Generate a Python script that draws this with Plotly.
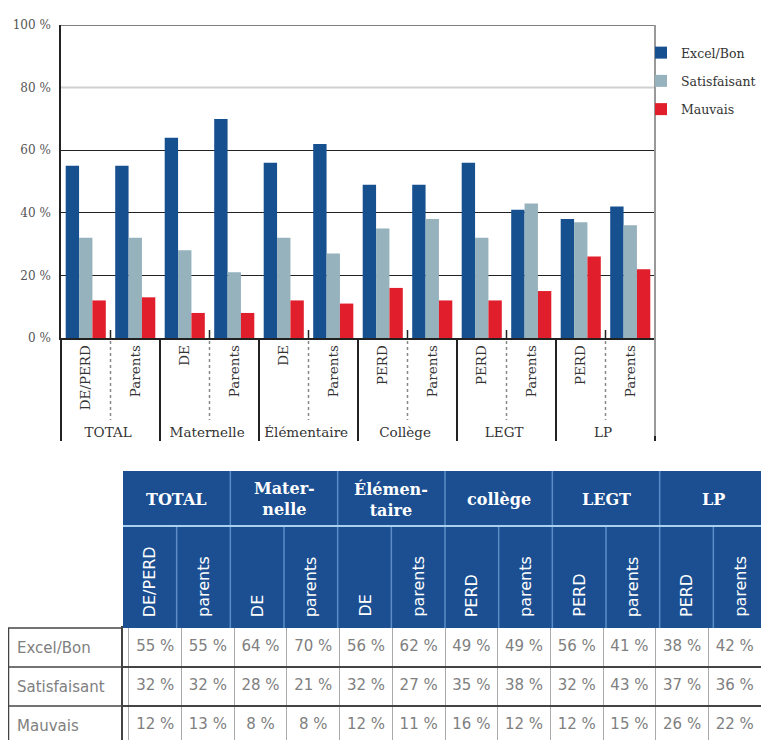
import plotly.graph_objects as go

# ---------------- data ----------------
groups = ["TOTAL", "Maternelle", "Élémentaire", "Collège", "LEGT", "LP"]
sub_labels = ["DE/PERD", "Parents", "DE", "Parents", "DE", "Parents",
              "PERD", "Parents", "PERD", "Parents", "PERD", "Parents"]
series_names = ["Excel/Bon", "Satisfaisant", "Mauvais"]
excel_bon = [55, 55, 64, 70, 56, 62, 49, 49, 56, 41, 38, 42]
satisfaisant = [32, 32, 28, 21, 32, 27, 35, 38, 32, 43, 37, 36]
mauvais = [12, 13, 8, 8, 12, 11, 16, 12, 12, 15, 26, 22]
y_ticks = [0, 20, 40, 60, 80, 100]
y_tick_text = ["0 %", "20 %", "40 %", "60 %", "80 %", "100 %"]
table_groups = ["TOTAL", "Mater-<br>nelle", "Élémen-<br>taire", "collège", "LEGT", "LP"]
table_subs = ["DE/PERD", "parents", "DE", "parents", "DE", "parents",
              "PERD", "parents", "PERD", "parents", "PERD", "parents"]

colors = ["#17508f", "#95b2bd", "#e11e2b"]
# the page body has an 8px margin: figure is sized so it fits the 769x740 window
OFF = 8
W, H = 769 - OFF, 740 - OFF
SERIF = "DejaVu Serif"
SANS = "DejaVu Sans"


def px(x):
    return (x - OFF) / W


def py(y):
    return 1 - (y - OFF) / H


n = len(sub_labels)
group_x = [g for g in groups for _ in range(2)]
# feed non-"Parents" points first so the multicategory axis keeps DE/PERD before Parents
order = sorted(range(n), key=lambda i: sub_labels[i] == "Parents")

fig = go.Figure()
for name, vals, col in zip(series_names, [excel_bon, satisfaisant, mauvais], colors):
    fig.add_trace(go.Bar(
        x=[[group_x[i] for i in order], [sub_labels[i] for i in order]],
        y=[vals[i] for i in order], name=name, marker_color=col,
        marker_line_width=0, legendgroup=name,
    ))

# ---------------- table body (text on a categorical grid) ----------------
series_all = [excel_bon, satisfaisant, mauvais]
col_keys = [f"{group_x[i]} {sub_labels[i]}" for i in range(n)]
tx, ty, tt = [], [], []
for name, s in zip(series_names, series_all):
    for i in range(n):
        tx.append(col_keys[i])
        ty.append(name)
        tt.append(f"{s[i]}\u00a0%")
fig.add_trace(go.Scatter(
    x=tx, y=ty, text=tt, mode="text", xaxis="x2", yaxis="y2",
    textfont=dict(family=SANS, size=15, color="#808080"), textposition="middle center",
    showlegend=False, hoverinfo="skip", cliponaxis=False,
))

# ---------------- shapes & annotations ----------------
shapes = []
annotations = []

shapes.append(dict(type="line", xref="x domain", yref="y", x0=0, x1=1, y0=80, y1=80,
                   line=dict(color="#d0d0d0", width=2)))
shapes.append(dict(type="line", xref="x domain", yref="y", x0=0, x1=1, y0=100, y1=100,
                   line=dict(color="#555", width=1.5)))
shapes.append(dict(type="line", xref="paper", yref="paper", x0=px(655), x1=px(655),
                   y0=py(25), y1=py(436), line=dict(color="#999", width=2)))
for g in range(len(groups)):
    xf = (2 * g + 1) / n
    shapes.append(dict(type="line", xref="x domain", yref="paper", x0=xf, x1=xf,
                       y0=py(341), y1=py(420), line=dict(color="#888", width=1.5, dash="dot")))
    shapes.append(dict(type="line", xref="x domain", yref="paper", x0=xf, x1=xf,
                       y0=py(330), y1=py(339), line=dict(color="#222", width=1.5)))

tx0, tx1 = 123, 767
cw = (tx1 - tx0) / n
# header background and inner lines
shapes.append(dict(type="rect", xref="paper", yref="paper", x0=px(tx0), x1=px(tx1),
                   y0=py(628), y1=py(471), fillcolor="#1b4f91", line=dict(width=0)))
for i in range(1, n):
    xx = tx0 + cw * i
    top = 471 if i % 2 == 0 else 526
    shapes.append(dict(type="line", xref="paper", yref="paper", x0=px(xx), x1=px(xx),
                       y0=py(top), y1=py(628), line=dict(color="#5d8cc6", width=1.5)))
shapes.append(dict(type="line", xref="paper", yref="paper", x0=px(tx0), x1=px(tx1),
                   y0=py(526), y1=py(526), line=dict(color="#a9d0ee", width=2)))
for g, lab in enumerate(table_groups):
    cx = tx0 + cw * (2 * g + 1)
    annotations.append(dict(text=f"<b>{lab}</b>", xref="paper", yref="paper", x=px(cx), y=py(499),
                            showarrow=False, xanchor="center", yanchor="middle",
                            font=dict(family=SERIF, size=16, color="white")))
for i, lab in enumerate(table_subs):
    cx = tx0 + cw * (i + 0.5)
    annotations.append(dict(text=lab, xref="paper", yref="paper", x=px(cx), y=py(619),
                            showarrow=False, textangle=-90, xanchor="center", yanchor="bottom",
                            font=dict(family=SANS, size=16, color="white")))

# row-label column of the table
for r, name in enumerate(series_names):
    annotations.append(dict(text=name, xref="paper", yref="y2", x=px(15), y=name,
                            showarrow=False, xanchor="left", yanchor="middle",
                            font=dict(family=SANS, size=15, color="#808080")))
    if r > 0:
        shapes.append(dict(type="line", xref="paper", yref="y2", x0=px(8), x1=px(tx0),
                           y0=r - 0.5, y1=r - 0.5, line=dict(color="#444", width=1.5)))
shapes.append(dict(type="line", xref="paper", yref="paper", x0=px(8), x1=px(tx0),
                   y0=py(628), y1=py(628), line=dict(color="#444", width=1.5)))
shapes.append(dict(type="line", xref="paper", yref="paper", x0=px(8.5), x1=px(8.5),
                   y0=py(628), y1=0, line=dict(color="#444", width=1.5)))

rows_visible = (740 - 628) / 39.0

fig.update_layout(
    width=W, height=H,
    margin=dict(l=0, r=0, t=0, b=0, autoexpand=False),
    paper_bgcolor="white", plot_bgcolor="white",
    barmode="group", bargap=0.19, bargroupgap=0,
    showlegend=True,
    legend=dict(x=px(641), y=py(38), xanchor="left", yanchor="top",
                font=dict(family=SERIF, size=12.5, color="#333"),
                itemwidth=30, tracegroupgap=9, bgcolor="rgba(0,0,0,0)"),
    xaxis=dict(domain=[px(61), px(655)], type="multicategory", tickangle=-90,
               showdividers=True, dividercolor="#222", dividerwidth=1.5,
               showline=True, linecolor="#222", linewidth=1.5,
               tickfont=dict(family=SERIF, size=13.5, color="#333"),
               showgrid=False, automargin=False),
    yaxis=dict(domain=[py(338), py(25)], range=[0, 100], tickvals=y_ticks, ticktext=y_tick_text,
               showline=True, linecolor="#222", linewidth=1.5,
               showgrid=True, gridcolor="#222", gridwidth=1.2,
               tickfont=dict(family=SERIF, size=12, color="#555"), ticks="",
               ticklabelstandoff=6, zeroline=False, automargin=False),
    xaxis2=dict(domain=[px(tx0), px(tx1)], anchor="y2", type="category",
                categoryorder="array", categoryarray=col_keys,
                tickson="boundaries", showgrid=True, gridcolor="#aaa", gridwidth=1.2,
                showticklabels=False, ticks="", showline=True, mirror=True,
                linecolor="#444", linewidth=1.5, zeroline=False, fixedrange=True,
                automargin=False),
    yaxis2=dict(domain=[0, py(628)], anchor="x2", type="category",
                categoryorder="array", categoryarray=series_names,
                range=[-0.5 + rows_visible, -0.5],
                tickson="boundaries", showgrid=True, gridcolor="#444", gridwidth=1.5,
                showticklabels=False, ticks="", showline=True, mirror=True,
                linecolor="#444", linewidth=1.5, zeroline=False, fixedrange=True,
                automargin=False),
    shapes=shapes,
    annotations=annotations,
)

fig.write_html("out.html")
